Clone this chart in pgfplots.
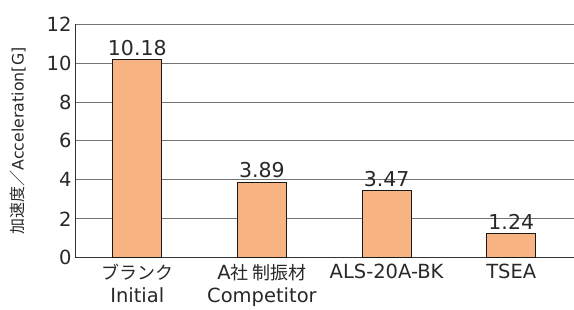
\documentclass[border=0pt]{standalone}
\usepackage{fontspec}
\setmainfont{DejaVu Sans}
\newfontfamily\cjk{Noto Sans CJK JP}
\usepackage{pgfplots}
\pgfplotsset{compat=1.18}
\definecolor{barfill}{RGB}{247,180,130}
\definecolor{txt}{RGB}{40,40,40}
\begin{document}
\begin{tikzpicture}
\path (-75pt,-48pt) rectangle (499pt,258pt);
\begin{axis}[
  at={(0,0)}, anchor=south west,
  scale only axis, width=499pt, height=234pt,
  xmin=-0.5, xmax=3.5, ymin=0, ymax=12,
  ytick={0,2,...,12},
  xtick={0,1,2,3},
  xticklabels={{{\cjk\fontsize{18}{23}\selectfont ブランク}\\Initial},{A{\cjk\fontsize{18}{23}\selectfont 社 制振材}\\Competitor},{ALS-20A-BK},{TSEA}},
  xticklabel style={align=center, yshift=-3pt},
  axis x line*=bottom, axis y line*=left,
  axis line style={draw=black!80, line width=0.8pt},
  ymajorgrids, grid style={draw=black!55, line width=0.8pt},
  major tick length=0pt,
  ybar, bar width=49pt,
  nodes near coords={\pgfmathprintnumber[fixed,precision=2,fixed zerofill]{\pgfplotspointmeta}},
  nodes near coords style={font=\fontsize{20.5}{24}\selectfont, text=txt},
  ticklabel style={font=\fontsize{19.5}{23}\selectfont, text=txt},
  /pgf/number format/assume math mode=true,
  ylabel={{\cjk\fontsize{16}{16}\selectfont 加速度／}Acceleration[G]},
  ylabel style={font=\fontsize{15.8}{16}\selectfont, text=txt},
  ylabel shift=14pt,
]
\addplot[fill=barfill, draw=black!90, line width=1pt] coordinates {(0,10.18) (1,3.89) (2,3.47) (3,1.24)};
\end{axis}
\end{tikzpicture}
\end{document}
